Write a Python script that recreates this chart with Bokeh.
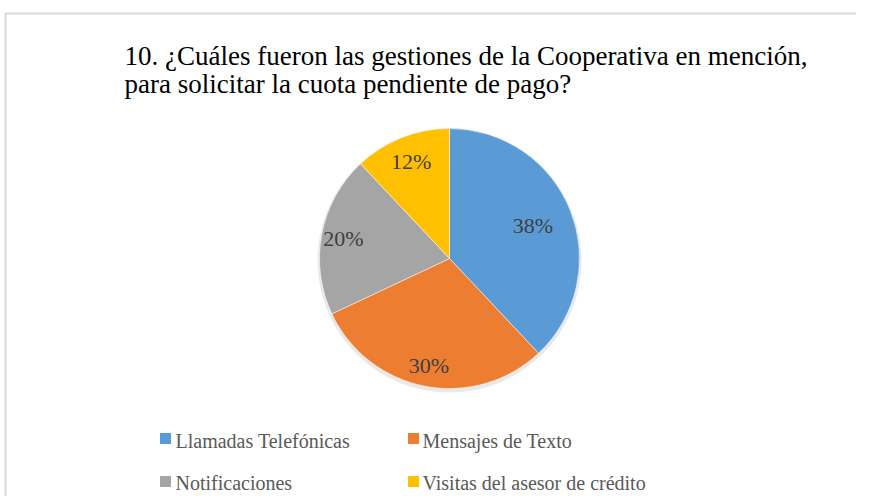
import math
from bokeh.plotting import figure
from bokeh.models import Range1d, ColumnDataSource
from bokeh.core.properties import value
from bokeh.embed import file_html
from bokeh.resources import INLINE

# ---- data ----
categories = ["Llamadas Telefónicas", "Mensajes de Texto", "Notificaciones", "Visitas del asesor de crédito"]
percents = [38, 30, 20, 12]
colors = ["#5B9BD5", "#ED7D31", "#A5A5A5", "#FFC000"]
title_lines = ["10. ¿Cuáles fueron las gestiones de la Cooperativa en mención,",
               "para solicitar la cuota pendiente de pago?"]

# ---- layout ----
W, H = 856, 496
FONT = value("'Liberation Serif', 'Times New Roman', serif")
def X(rx):
    return rx
def Y(ry):
    return H - ry

cx, cy, R = X(449), Y(258), 130
label_r = [0.69, 0.84, 0.83, 0.80]

p = figure(width=W, height=H, output_backend="svg", toolbar_location=None,
           x_range=Range1d(0, W), y_range=Range1d(0, H), min_border=0)
p.axis.visible = False
p.grid.visible = False
p.outline_line_color = None
p.background_fill_color = "white"
p.border_fill_color = "white"

# chart border (top/left visible)
p.line(x=[X(5), X(5), W], y=[0, Y(13), Y(13)], line_color="#D9D9D9", line_width=2)

# pie
total = sum(percents)
starts, ends, mids = [], [], []
cum = 0
for v in percents:
    a0 = math.pi / 2 - 2 * math.pi * cum / total
    cum += v
    a1 = math.pi / 2 - 2 * math.pi * cum / total
    starts.append(a0); ends.append(a1); mids.append((a0 + a1) / 2)

# soft shadow
p.circle(x=cx, y=cy - 2, radius=R + 2, radius_units="screen", fill_color="#BFBFBF",
         fill_alpha=0.35, line_color=None)

src = ColumnDataSource(dict(start=starts, end=ends, color=colors))
p.wedge(x=cx, y=cy, radius=R, radius_units="screen", start_angle="start", end_angle="end",
        direction="clock", fill_color="color", line_color="white", line_width=0.5, source=src)

lx = [cx + R * r * math.cos(m) for r, m in zip(label_r, mids)]
ly = [cy + R * r * math.sin(m) for r, m in zip(label_r, mids)]
p.text(x=lx, y=ly, text=[f"{v}%" for v in percents], text_align="center",
       text_baseline="middle", text_font=FONT,
       text_font_size="22px", text_color="#404040")

# title
p.text(x=[X(124), X(124)], y=[Y(55), Y(83)], text=title_lines, text_align="left",
       text_baseline="middle", text_font=FONT,
       text_font_size="27px", text_color="black")

# legend
sq_x = [X(165), X(413), X(165), X(413)]
sq_y = [Y(438), Y(438), Y(481), Y(481)]
t_y = [Y(440), Y(440), Y(482), Y(482)]
tx = [X(175), X(422), X(175), X(422)]
p.rect(x=sq_x, y=sq_y, width=11, height=11, width_units="screen", height_units="screen",
       fill_color=colors, line_color=None)
p.text(x=tx, y=t_y, text=categories, text_align="left", text_baseline="middle",
       text_font=FONT, text_font_size="20px", text_color="#595959")

open("out.html", "w").write(file_html(p, INLINE))
